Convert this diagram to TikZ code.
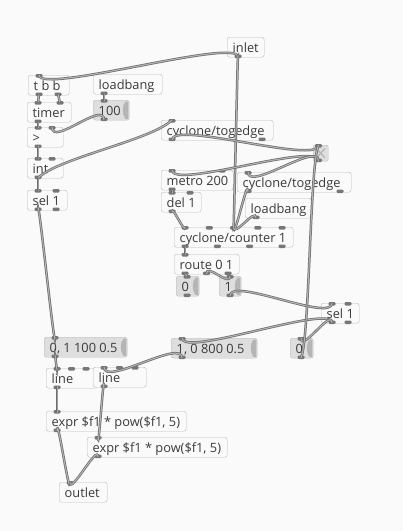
\documentclass[tikz,border=0pt]{standalone}
\usepackage{fontspec}
\setmainfont{Open Sans}
\usetikzlibrary{calc}

\definecolor{canvas}{HTML}{FAFAFA}
\definecolor{boxfill}{HTML}{FAFAFA}
\definecolor{edge}{HTML}{BBBBBB}
\definecolor{ink}{HTML}{3A3A3A}
\definecolor{io}{HTML}{777777}
\definecolor{atomfill}{HTML}{DEDEDE}
\definecolor{flagc}{HTML}{B5B5B5}
\definecolor{cordout}{HTML}{6E6E6E}
\definecolor{cordin}{HTML}{B4B4B4}

\newcommand\pdbox[8][]{%
  \node[obj,#1,minimum width=#5pt] (#2) at (#3,#4) {\makebox[\dimexpr#5pt-11pt\relax][l]{#6}};
  \ifnum#7>0
    \foreach \k in {1,...,#7}{
      \pgfmathsetmacro\pdx{#3+11+(#5-22)*(\k-1)/max(#7-1,1)}
      \coordinate (#2-i\k) at (\pdx,#4);
      \fill[iolet] (\pdx-3.5,#4-1) rectangle (\pdx+3.5,#4+2.5);
    }
  \fi
  \ifnum#8>0
    \foreach \k in {1,...,#8}{
      \pgfmathsetmacro\pdx{#3+11+(#5-22)*(\k-1)/max(#8-1,1)}
      \coordinate (#2-o\k) at (\pdx,#4+20);
      \fill[iolet] (\pdx-3.5,#4+17.5) rectangle (\pdx+3.5,#4+21);
    }
  \fi
}
\newcommand\pdflag[1]{\fill[flagc] ([xshift=-1pt,yshift=-1.5pt]#1.north east) -- ++(-3pt,0)
  .. controls +(-3.5pt,-5pt) and +(-3.5pt,5pt) .. ([xshift=-4pt,yshift=1.5pt]#1.south east)
  -- ([xshift=-1pt,yshift=1.5pt]#1.south east) -- cycle;}
\newcommand\cord[2]{\draw[cord] let \p1=(#1), \p2=(#2),
  \n1={min(20,max(abs(\x2-\x1),abs(\y2-\y1))/2)},
  \n2={ifthenelse(\y1<=\y2,min(20,min(abs(\x2-\x1),abs(\y2-\y1))/2),0)*ifthenelse(\x1<\x2,1,-1)} in
  (\p1) .. controls +(\n2,\n1) and +({-(\n2)},{-(\n1)}) .. (\p2);}

\begin{document}
\begin{tikzpicture}[x=1pt,y=-1pt,
    obj/.style={draw=edge,fill=boxfill,rounded corners=2.5pt,anchor=north west,minimum height=20pt,
      inner xsep=5.5pt,inner ysep=0pt,text height=12pt,text depth=2pt,text=ink,font=\fontsize{12.8}{14}\selectfont},
    atom/.style={fill=atomfill},
    iolet/.style={fill=io,rounded corners=1.2pt},
    cord/.style={draw=cordout,line width=0.75pt,double=cordin,double distance=1pt}]
    \fill[canvas] (0,0) rectangle (403,531);
    \useasboundingbox (0,0) rectangle (403,531);

    \pdbox{inlet}{227}{37}{37}{inlet}{0}{1}
    \pdbox{tbb}{28}{75}{41}{t b b}{1}{2}
    \pdbox{lbA}{93}{74}{69}{loadbang}{0}{1}
    \pdbox{timer}{27}{102}{44}{timer}{2}{1}
    \pdbox[atom]{numA}{93}{100}{36}{100}{1}{1}
    \pdbox{gt}{27}{127}{36}{>}{2}{1}
    \pdbox{int}{27}{158}{36}{int}{2}{1}
    \pdbox{selA}{27}{190}{40}{sel 1}{2}{2}
    \pdbox{edgeA}{161}{120}{112}{cyclone/togedge}{1}{2}
    \pdbox{metro}{161}{170}{72}{metro 200}{2}{1}
    \pdbox{edgeB}{237}{172}{114}{cyclone/togedge}{1}{2}
    \pdbox{del}{161}{192}{40}{del 1}{2}{1}
    \pdbox{lbB}{245}{198}{66}{loadbang}{0}{1}
    \pdbox{counter}{174}{227}{119}{cyclone/counter 1}{5}{4}
    \pdbox{route}{174}{254}{65}{route 0 1}{1}{3}
    \pdbox[atom]{numB}{176}{276}{23}{0}{1}{1}
    \pdbox[atom]{numC}{219}{276}{22}{1}{1}{1}
    \pdbox{selB}{321}{303}{38}{sel 1}{2}{2}
    \pdbox[atom]{msgB}{171}{338}{86}{1, 0 800 0.5}{1}{1}
    \pdbox[atom]{numD}{290}{338}{23}{0}{1}{1}
    \pdbox[atom]{msgA}{44}{337}{83}{0, 1 100 0.5}{1}{1}
    \pdbox{lineA}{46}{368}{51}{line}{3}{1}
    \pdbox{lineB}{93}{367}{53}{line}{3}{1}
    \pdbox{exprA}{46}{411}{140}{expr \$f1 * pow(\$f1, 5)}{1}{1}
    \pdbox{exprB}{87}{437}{140}{expr \$f1 * pow(\$f1, 5)}{1}{1}
    \pdbox{outlet}{59}{482}{48}{outlet}{1}{0}
    \foreach \a in {numA,numB,numC,numD,msgA,msgB}
        \pdflag{\a};

    \node[draw=edge,fill=atomfill,rounded corners=2pt,anchor=north west,minimum width=15pt,minimum height=16pt,inner sep=0pt] (tgl) at (313,145) {};
    \draw[flagc,line width=1.3pt] ([shift={(3.5pt,-3.5pt)}]tgl.north west) -- ([shift={(-3.5pt,3.5pt)}]tgl.south east);
    \draw[flagc,line width=1.3pt] ([shift={(-3.5pt,-3.5pt)}]tgl.north east) -- ([shift={(3.5pt,3.5pt)}]tgl.south west);
    \coordinate (tgl-i1) at (318.5,145);
    \coordinate (tgl-o1) at (318.5,161);
    \fill[iolet] (315,144) rectangle (322,147.5);
    \fill[iolet] (315,158.5) rectangle (322,162);

    \foreach \a/\b in {inlet-o1/tbb-i1, inlet-o1/counter-i3, tbb-o1/timer-i1, tbb-o2/timer-i2,
        lbA-o1/numA-i1, timer-o1/gt-i1, numA-o1/gt-i2, gt-o1/int-i1, int-o1/selA-i1, int-o1/edgeA-i1,
        edgeA-o1/tgl-i1, tgl-o1/metro-i1, tgl-o1/edgeB-i1, metro-o1/del-i1, del-o1/counter-i1,
        edgeB-o1/counter-i3, lbB-o1/counter-i3, counter-o1/route-i1, route-o1/numB-i1, route-o2/numC-i1,
        numC-o1/selB-i1, selB-o1/msgB-i1, selB-o1/numD-i1, numD-o1/tgl-i1, selA-o1/msgA-i1,
        msgA-o1/lineA-i1, msgB-o1/lineB-i1, lineA-o1/exprA-i1, lineB-o1/exprB-i1,
        exprA-o1/outlet-i1, exprB-o1/outlet-i1}
        \cord{\a}{\b};
\end{tikzpicture}
\end{document}
